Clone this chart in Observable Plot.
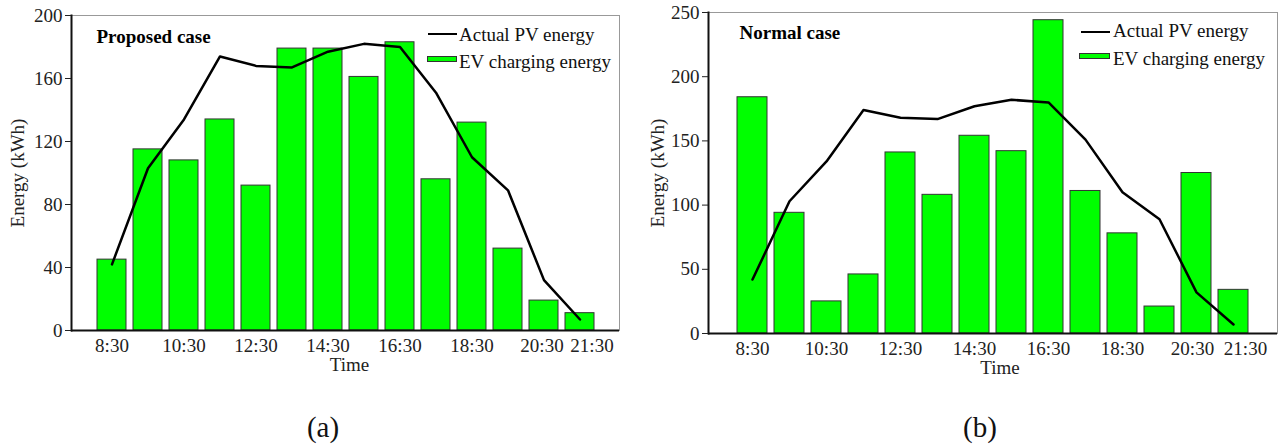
<!DOCTYPE html>
<html>
<head>
<meta charset="utf-8">
<script src="https://cdn.jsdelivr.net/npm/d3@7"></script>
<script src="https://cdn.jsdelivr.net/npm/@observablehq/plot@0.6"></script>
<style>
  body { margin: 0; background: #fff; font-family: "Liberation Serif", "Times New Roman", serif; }
  #wrap { position: relative; width: 1286px; height: 448px; overflow: hidden; }
  .panel { position: absolute; top: 0; }
  .lg { position: absolute; font-size: 19px; line-height: 19px; color: #111; white-space: nowrap; }
  .lgline { position: absolute; height: 2.4px; background: #000; }
  .lgsw { position: absolute; background: #00ff00; border: 1px solid #333; box-sizing: border-box; }
  .cap { position: absolute; font-size: 29px; line-height: 29px; color: #111; transform: translate(-50%, -50%); }
</style>
</head>
<body>
<div id="wrap">
  <div id="pa" class="panel" style="left:0px"></div>
  <div id="pb" class="panel" style="left:640px"></div>

  <div class="lgline" style="left:428px; top:33px; width:29px"></div>
  <div class="lg" style="left:459px; top:25px">Actual PV energy</div>
  <div class="lgsw" style="left:427px; top:56px; width:30px; height:6px"></div>
  <div class="lg" style="left:459px; top:52px">EV charging energy</div>

  <div class="lgline" style="left:1081px; top:31px; width:29px"></div>
  <div class="lg" style="left:1113px; top:21px">Actual PV energy</div>
  <div class="lgsw" style="left:1079px; top:53px; width:31px; height:6px"></div>
  <div class="lg" style="left:1113px; top:49px">EV charging energy</div>

  <div class="cap" style="left:323px; top:427px">(a)</div>
  <div class="cap" style="left:980px; top:427px">(b)</div>
</div>
<script>
const times = ["8:30","9:30","10:30","11:30","12:30","13:30","14:30","15:30","16:30","17:30","18:30","19:30","20:30","21:30"];
const pvEnergy = [42, 103, 134, 174, 168, 167, 177, 182, 180, 151, 110, 89, 32, 7];
const evProposed = [45, 115, 108, 134, 92, 179, 179, 161, 183, 96, 132, 52, 19, 11];
const evNormal = [184, 94, 25, 46, 141, 108, 154, 142, 244, 111, 78, 21, 125, 34];
const xTickLabels = ["8:30","10:30","12:30","14:30","16:30","18:30","20:30","21:30"];
const yTicksA = [0, 40, 80, 120, 160, 200];
const yTicksB = [0, 50, 100, 150, 200, 250];

const font = "Liberation Serif, Times New Roman, serif";

function makePanel(ev, opts) {
  const data = times.map((t, i) => ({time: t, pv: pvEnergy[i], ev: ev[i]}));
  const n = xTickLabels.length;
  const mainTicks = xTickLabels.slice(0, n - 2);
  const axisCommon = {tickSize: 0, tickPadding: 8, label: null, fontSize: 19};
  return Plot.plot({
    width: opts.width,
    height: 380,
    marginLeft: opts.ml,
    marginRight: opts.mr,
    marginTop: opts.mt,
    marginBottom: opts.mb,
    style: {fontFamily: font, fontSize: "19px", color: "#222", background: "white"},
    x: {type: "band", domain: times, paddingInner: 0.2, paddingOuter: 0.6, align: 0.5},
    y: {domain: opts.ydomain},
    marks: [
      Plot.frame({stroke: "#999", strokeWidth: 1}),
      Plot.barY(data, {x: "time", y: "ev", fill: "#00ff00", stroke: "#333", strokeWidth: 1}),
      Plot.line(data, {x: "time", y: "pv", stroke: "#000", strokeWidth: 2.5}),
      Plot.ruleY([0], {stroke: "#111", strokeWidth: 2}),
      Plot.frame({anchor: "left", stroke: "#111", strokeWidth: 2}),
      Plot.axisX({ticks: mainTicks, ...axisCommon}),
      Plot.axisX({ticks: [xTickLabels[n - 2]], ...axisCommon, dx: opts.penDx}),
      Plot.axisX({ticks: [xTickLabels[n - 1]], ...axisCommon, dx: 12}),
      Plot.axisY({ticks: opts.yticks, tickSize: 6, tickPadding: 3, label: null, fontSize: 19}),
      Plot.text([opts.title], {frameAnchor: "top-left", textAnchor: "start", lineAnchor: "middle", dx: opts.tdx, dy: opts.tdy, fontWeight: "bold", fontSize: 19, fill: "#000"}),
      Plot.text(["Time"], {frameAnchor: "bottom", textAnchor: "middle", lineAnchor: "bottom", dx: opts.timeDx, dy: 40, fontSize: 19, fill: "#222"}),
      Plot.text(["Energy (kWh)"], {frameAnchor: "left", textAnchor: "middle", lineAnchor: "middle", rotate: -90, dx: opts.ylabDx, fontSize: 19, fill: "#222"})
    ]
  });
}

document.getElementById("pa").appendChild(makePanel(evProposed, {
  width: 640, ml: 71, mr: 21, mt: 15, mb: 50, ydomain: [0, 200], yticks: yTicksA,
  title: "Proposed case", tdx: 25, tdy: 21, timeDx: 4, ylabDx: -54, penDx: -2
}));
document.getElementById("pb").appendChild(makePanel(evNormal, {
  width: 646, ml: 68, mr: 9, mt: 12, mb: 47, ydomain: [0, 250], yticks: yTicksB,
  title: "Normal case", tdx: 31, tdy: 20, timeDx: 7, ylabDx: -51, penDx: -4
}));
</script>
</body>
</html>
